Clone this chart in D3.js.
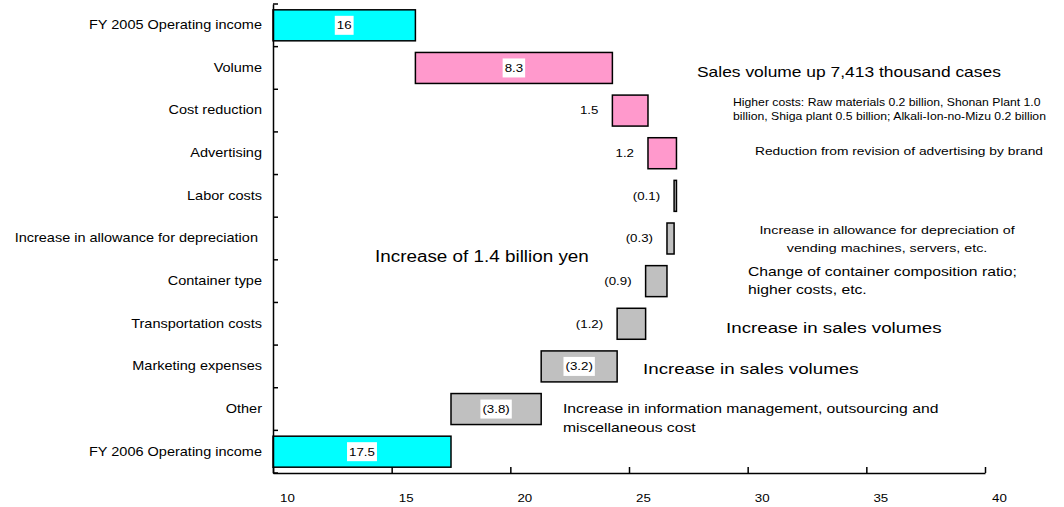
<!DOCTYPE html>
<html>
<head>
<meta charset="utf-8">
<script src="https://cdn.jsdelivr.net/npm/d3@7"></script>
<style>
  body { margin: 0; background: #fff; }
  text { font-family: "Liberation Sans", Arial, sans-serif; fill: #000; }
</style>
</head>
<body>
<svg id="chart" width="1064" height="507"></svg>
<script>
// ---- data ----------------------------------------------------------------
const categories = [
  "FY 2005 Operating income",
  "Volume",
  "Cost reduction",
  "Advertising",
  "Labor costs",
  "Increase in allowance for depreciation ",
  "Container type",
  "Transportation costs",
  "Marketing expenses",
  "Other",
  "FY 2006 Operating income"
];
const openingIncome = 16;     // billion yen
const closingIncome = 17.5;   // billion yen
const changes = [8.3, 1.5, 1.2, -0.1, -0.3, -0.9, -1.2, -3.2, -3.8];
const xTickValues = [10, 15, 20, 25, 30, 35, 40];

const noteTexts = [
  ["Sales volume up 7,413 thousand cases"],
  ["Higher costs: Raw materials 0.2 billion, Shonan Plant 1.0",
   "billion, Shiga plant 0.5 billion; Alkali-Ion-no-Mizu 0.2 billion"],
  ["Reduction from revision of advertising by brand"],
  ["Increase in allowance for depreciation of",
   "vending machines, servers, etc."],
  ["Change of container composition ratio;", "higher costs, etc."],
  ["Increase in sales volumes"],
  ["Increase in sales volumes"],
  ["Increase in information management, outsourcing and",
   "miscellaneous cost"],
  ["Increase of 1.4 billion yen"]
];

// ---- layout ----------------------------------------------------------------
const SX = 1.21;                       // horizontal widening of all lettering
const plot = { left: 273, right: 985, top: 4, bottom: 473 };

// where each note sits: x, y of first line centre, font size, line gap, anchor
const notePlacement = [
  { x: 697, y: 71.5, size: 14.4, gap: 0,  anchor: "start" },
  { x: 733, y: 102,  size: 10.1, gap: 14, anchor: "start" },
  { x: 755, y: 151.5,size: 11.4, gap: 0,  anchor: "start" },
  { x: 887, y: 230,  size: 11.8, gap: 18, anchor: "middle" },
  { x: 748, y: 271,  size: 13,   gap: 18, anchor: "start" },
  { x: 726, y: 328,  size: 15.5, gap: 0,  anchor: "start" },
  { x: 643, y: 369,  size: 15.5, gap: 0,  anchor: "start" },
  { x: 563, y: 408,  size: 13,   gap: 19, anchor: "start" },
  { x: 375, y: 256.5,size: 15.6, gap: 0,  anchor: "start" }
];

const colors = { total: "#00FFFF", up: "#FF99CC", down: "#C0C0C0" };

const svg = d3.select("#chart");

const x = d3.scaleLinear()
  .domain([xTickValues[0], xTickValues[xTickValues.length - 1]])
  .range([plot.left, plot.right]);

const y = d3.scaleBand()
  .domain(categories)
  .range([plot.top, plot.bottom])
  .paddingInner(0.273)
  .paddingOuter(0.1365);

// ---- waterfall segments ----------------------------------------------------
const fmtStep = d3.format(".1f");
const segments = [];
let running = openingIncome;
segments.push({ cat: categories[0], x0: x.domain()[0], x1: openingIncome,
                kind: "total", label: d3.format("")(openingIncome) });
changes.forEach((d, i) => {
  const a = running, b = running + d;
  segments.push({
    cat: categories[i + 1],
    x0: Math.min(a, b), x1: Math.max(a, b),
    kind: d >= 0 ? "up" : "down",
    label: d >= 0 ? fmtStep(d) : "(" + fmtStep(-d) + ")"
  });
  running = b;
});
segments.push({ cat: categories[categories.length - 1], x0: x.domain()[0],
                x1: closingIncome, kind: "total",
                label: d3.format("")(closingIncome) });

// ---- bars ------------------------------------------------------------------
const barG = svg.append("g");
barG.selectAll("rect")
  .data(segments)
  .join("rect")
  .attr("x", d => x(d.x0))
  .attr("y", d => y(d.cat))
  .attr("width", d => Math.max(1, x(d.x1) - x(d.x0)))
  .attr("height", y.bandwidth())
  .attr("fill", d => colors[d.kind])
  .attr("stroke", "#000")
  .attr("stroke-width", 1.5);

// ---- axes ------------------------------------------------------------------
const xAxis = svg.append("g")
  .attr("transform", `translate(0,${plot.bottom})`)
  .call(d3.axisBottom(x).tickValues(xTickValues).tickSize(-6).tickSizeOuter(0));
xAxis.select(".domain").attr("stroke", "#000").attr("stroke-width", 1.5);
xAxis.selectAll(".tick line").attr("stroke", "#000").attr("stroke-width", 1.5);
xAxis.selectAll(".tick text")
  .attr("x", 0).attr("y", 0).attr("dy", "0.35em")
  .attr("transform", `translate(14,25) scale(${SX},1)`)
  .style("font-size", "11px")
  .style("font-family", "'Liberation Sans', Arial, sans-serif")
  .attr("fill", "#000");

const yAxis = svg.append("g")
  .attr("transform", `translate(${plot.left},0)`)
  .call(d3.axisLeft(y).tickSize(0).tickSizeOuter(0).tickPadding(11));
yAxis.select(".domain").attr("stroke", "#000").attr("stroke-width", 1.5);
yAxis.selectAll(".tick text")
  .attr("x", 0)
  .attr("transform", `translate(-11,0) scale(${SX},1)`)
  .style("font-size", "12px")
  .style("white-space", "pre")
  .style("font-family", "'Liberation Sans', Arial, sans-serif")
  .attr("fill", "#000");

// category boundary ticks, pointing into the plot
const half = (y.step() - y.bandwidth()) / 2;
const bounds = categories.map(c => y(c) - half).concat([plot.bottom]);
svg.append("g").selectAll("line")
  .data(bounds)
  .join("line")
  .attr("x1", plot.left).attr("x2", plot.left + 5)
  .attr("y1", d => d).attr("y2", d => d)
  .attr("stroke", "#000").attr("stroke-width", 1.5);

// ---- value labels ----------------------------------------------------------
// wide bars carry their label on a white chip; narrow ones get it on the left
const labelG = svg.append("g");
segments.forEach(d => {
  const bx0 = x(d.x0), bx1 = x(d.x1);
  const cy = y(d.cat) + y.bandwidth() / 2;
  const g = labelG.append("g");
  const t = g.append("text")
    .attr("x", 0).attr("dy", "0.35em")
    .style("font-size", "11px")
    .text(d.label);
  const w = t.node().getComputedTextLength() * SX;
  if (bx1 - bx0 >= 60) {
    const cx = (bx0 + bx1) / 2;
    g.insert("rect", "text")
      .attr("x", cx - w / 2 - 2).attr("y", cy - 9.5)
      .attr("width", w + 4).attr("height", 19)
      .attr("fill", "#fff");
    t.attr("text-anchor", "middle")
     .attr("transform", `translate(${cx},${cy}) scale(${SX},1)`);
  } else {
    t.attr("text-anchor", "end")
     .attr("transform", `translate(${bx0 - 14},${cy}) scale(${SX},1)`);
  }
});

// ---- notes -----------------------------------------------------------------
const noteG = svg.append("g");
noteTexts.forEach((lines, i) => {
  const p = notePlacement[i];
  lines.forEach((line, j) => {
    noteG.append("text")
      .attr("x", 0).attr("dy", "0.35em")
      .attr("text-anchor", p.anchor)
      .attr("transform", `translate(${p.x},${p.y + j * p.gap}) scale(${SX},1)`)
      .style("font-size", p.size + "px")
      .text(line);
  });
});
</script>
</body>
</html>
